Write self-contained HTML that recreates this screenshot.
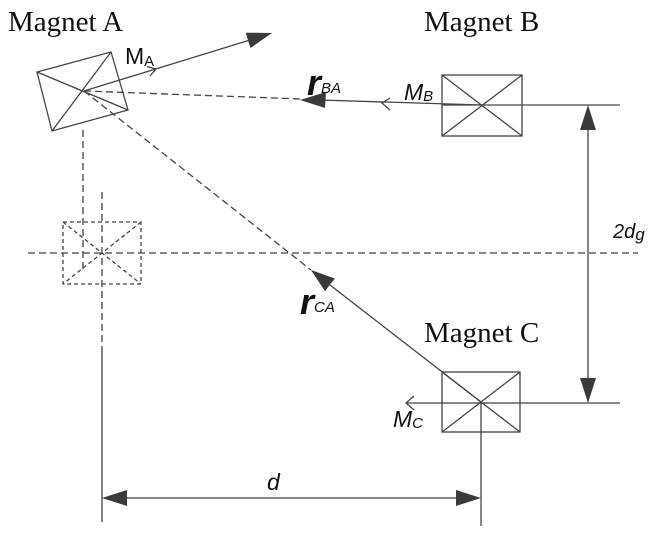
<!DOCTYPE html>
<html><head><meta charset="utf-8"><style>html,body{margin:0;padding:0;background:#fff}svg{display:block}</style></head>
<body>
<svg width="658" height="538" viewBox="0 0 658 538" xmlns="http://www.w3.org/2000/svg">
<g stroke="#444" stroke-width="1.3" fill="none">
<!-- Magnet A -->
<polygon points="37,72 111,52 128,110 52,131"/>
<line x1="37" y1="72" x2="128" y2="110"/>
<line x1="111" y1="52" x2="52" y2="131"/>
<line x1="84" y1="91" x2="250" y2="40"/>
<polyline points="147,66.6 156,69 150,76"/>
<!-- dashed lines -->
<g stroke-dasharray="7,4">
<line x1="84" y1="91" x2="302" y2="99"/>
<line x1="84" y1="91" x2="311" y2="270"/>
<line x1="83" y1="130" x2="83" y2="273"/>
<line x1="28" y1="253" x2="638" y2="253"/>
<line x1="102" y1="192" x2="102" y2="350"/>
</g>
<g stroke-dasharray="4,3">
<rect x="63" y="222" width="78" height="62"/>
<line x1="63" y1="222" x2="141" y2="284"/>
<line x1="141" y1="222" x2="63" y2="284"/>
</g>
<line x1="102" y1="350" x2="102" y2="522"/>
<!-- Magnet B -->
<rect x="442" y="75" width="80" height="61"/>
<line x1="442" y1="75" x2="522" y2="136"/>
<line x1="522" y1="75" x2="442" y2="136"/>
<line x1="320" y1="100" x2="482" y2="105"/>
<line x1="442" y1="105" x2="620" y2="105"/>
<polyline points="390,98 382,103 390,110"/>
<!-- Magnet C -->
<rect x="442" y="372" width="78" height="60"/>
<line x1="442" y1="372" x2="520" y2="432"/>
<line x1="520" y1="372" x2="442" y2="432"/>
<line x1="330" y1="285" x2="481" y2="402"/>
<line x1="406" y1="403" x2="620" y2="403"/>
<polyline points="414,396 406,403 414,410"/>
<line x1="481" y1="402" x2="481" y2="526"/>
<!-- dims -->
<line x1="588" y1="115" x2="588" y2="395"/>
<line x1="110" y1="498" x2="475" y2="498"/>
</g>
<g fill="#3a3a3a">
<polygon points="272,33 250.5,48 245.7,32.7"/>
<polygon points="300,100 326,92 325,108"/>
<polygon points="311,270 334.8,278.5 325,291.1"/>
<polygon points="588,105 580,130 596,130"/>
<polygon points="588,403 580,378 596,378"/>
<polygon points="102,498 127,490 127,506"/>
<polygon points="481,498 456,490 456,506"/>
</g>
<g fill="#111">
<text x="8" y="31" font-family="Liberation Serif, serif" font-size="29">Magnet A</text>
<text x="424" y="31" font-family="Liberation Serif, serif" font-size="29">Magnet B</text>
<text x="424" y="342" font-family="Liberation Serif, serif" font-size="29">Magnet C</text>
<g font-family="Liberation Sans, sans-serif">
<text x="125" y="64" font-size="23">M<tspan font-size="15" dy="2">A</tspan></text>
<text x="404" y="100" font-size="23" font-style="italic">M<tspan font-size="15" dy="1">B</tspan></text>
<text x="393" y="427" font-size="23" font-style="italic">M<tspan font-size="15" dy="1">C</tspan></text>
<text x="307" y="95" font-size="36" font-style="italic" font-weight="bold">r<tspan font-size="15" font-weight="normal" dy="-2">BA</tspan></text>
<text x="300" y="314" font-size="36" font-style="italic" font-weight="bold">r<tspan font-size="15" font-weight="normal" dy="-2">CA</tspan></text>
<text x="613" y="238" font-size="20" font-style="italic">2d<tspan font-size="17" dy="2">g</tspan></text>
<text x="267" y="490" font-size="23" font-style="italic">d</text>
</g>
</g>
</svg>
</body></html>
